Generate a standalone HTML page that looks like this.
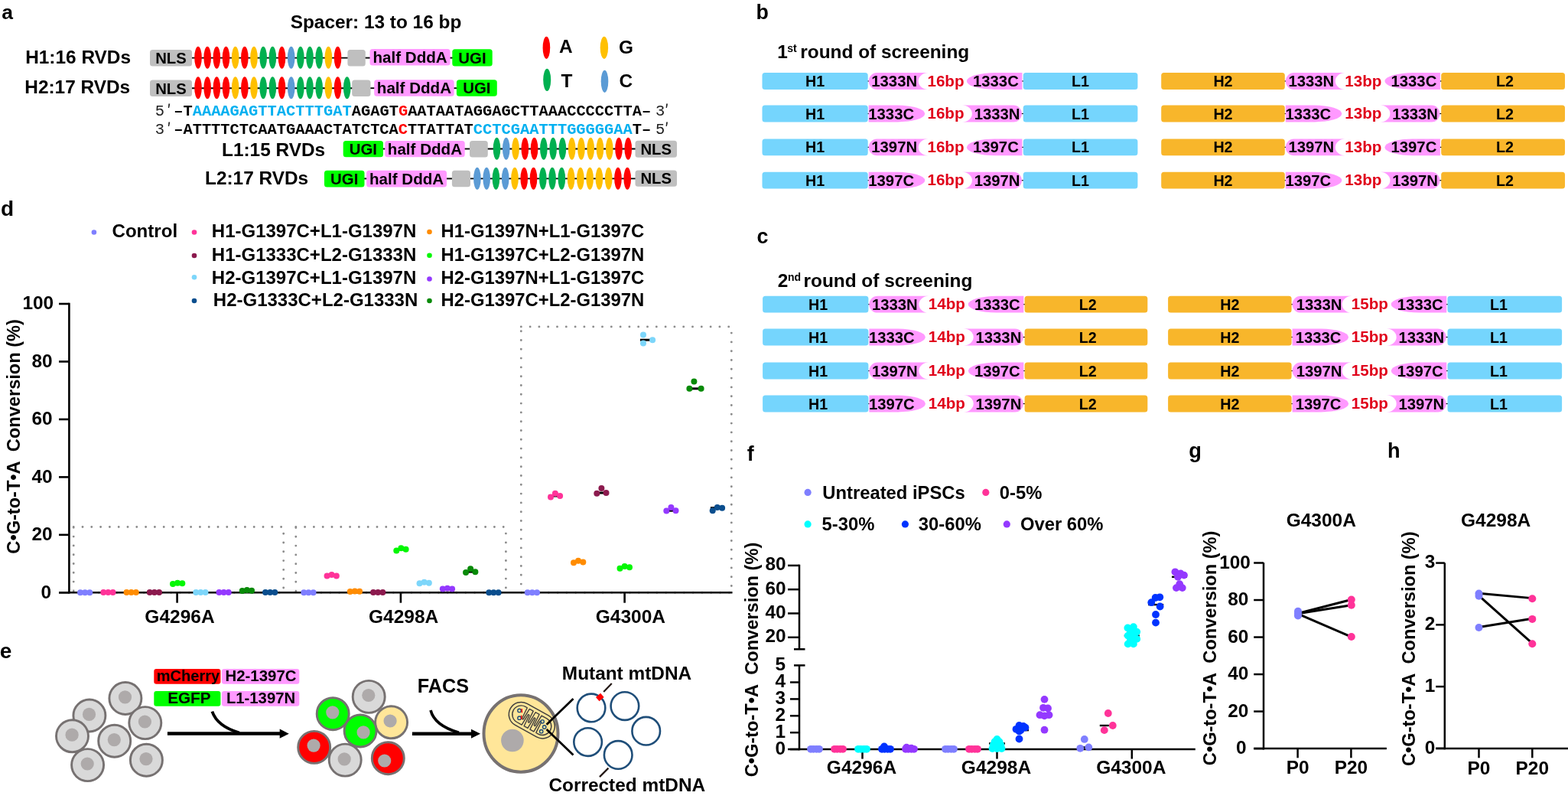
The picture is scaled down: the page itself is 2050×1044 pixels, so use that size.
<!DOCTYPE html>
<html><head><meta charset="utf-8"><title>Figure</title>
<style>html,body{margin:0;padding:0;background:#fff;} svg{display:block;}</style></head>
<body><svg width="2050" height="1044" viewBox="0 0 2050 1044">
<rect width="2050" height="1044" fill="#fff"/>
<text x="2.20" y="24.70" font-size="26.5" font-weight="bold" fill="#000" text-anchor="start" font-family="'Liberation Sans', Arial, sans-serif" >a</text>
<text x="491.50" y="36.80" font-size="24.4" font-weight="bold" fill="#000" text-anchor="middle" font-family="'Liberation Sans', Arial, sans-serif" >Spacer: 13 to 16 bp</text>
<text x="33.20" y="83.40" font-size="24.4" font-weight="bold" fill="#000" text-anchor="start" font-family="'Liberation Sans', Arial, sans-serif" >H1:16 RVDs</text>
<line x1="250.00" y1="75.60" x2="455.00" y2="75.60" stroke="#000" stroke-width="1.9" />
<line x1="477.00" y1="75.60" x2="484.00" y2="75.60" stroke="#000" stroke-width="1.9" />
<line x1="588.00" y1="75.60" x2="592.00" y2="75.60" stroke="#000" stroke-width="1.9" />
<rect x="196.00" y="65.00" width="55.00" height="21.60" rx="3.5" fill="#BFBFBF" />
<text x="223.50" y="83.07" font-size="20.3" font-weight="bold" fill="#000" text-anchor="middle" font-family="'Liberation Sans', Arial, sans-serif" >NLS</text>
<ellipse cx="259.00" cy="75.30" rx="4.8" ry="14.5" fill="#FF0000"/>
<ellipse cx="271.17" cy="75.30" rx="4.8" ry="14.5" fill="#FF0000"/>
<ellipse cx="283.34" cy="75.30" rx="4.8" ry="14.5" fill="#FF0000"/>
<ellipse cx="295.51" cy="75.30" rx="4.8" ry="14.5" fill="#FF0000"/>
<ellipse cx="307.68" cy="75.30" rx="4.8" ry="14.5" fill="#FFC000"/>
<ellipse cx="319.85" cy="75.30" rx="4.8" ry="14.5" fill="#FF0000"/>
<ellipse cx="332.02" cy="75.30" rx="4.8" ry="14.5" fill="#FFC000"/>
<ellipse cx="344.19" cy="75.30" rx="4.8" ry="14.5" fill="#00B050"/>
<ellipse cx="356.36" cy="75.30" rx="4.8" ry="14.5" fill="#00B050"/>
<ellipse cx="368.53" cy="75.30" rx="4.8" ry="14.5" fill="#FF0000"/>
<ellipse cx="380.70" cy="75.30" rx="4.8" ry="14.5" fill="#5B9BD5"/>
<ellipse cx="392.87" cy="75.30" rx="4.8" ry="14.5" fill="#00B050"/>
<ellipse cx="405.04" cy="75.30" rx="4.8" ry="14.5" fill="#00B050"/>
<ellipse cx="417.21" cy="75.30" rx="4.8" ry="14.5" fill="#00B050"/>
<ellipse cx="429.38" cy="75.30" rx="4.8" ry="14.5" fill="#FFC000"/>
<ellipse cx="441.55" cy="75.30" rx="4.8" ry="14.5" fill="#FF0000"/>
<rect x="454.40" y="65.00" width="23.40" height="21.60" rx="3.5" fill="#BFBFBF" />
<rect x="483.50" y="64.00" width="105.10" height="21.60" rx="3.5" fill="#FF99FF" />
<text x="536.05" y="82.17" font-size="20.6" font-weight="bold" fill="#000" text-anchor="middle" font-family="'Liberation Sans', Arial, sans-serif" >half DddA</text>
<rect x="591.30" y="64.20" width="52.40" height="22.30" rx="3.5" fill="#00FF00" />
<text x="617.50" y="82.65" font-size="20.4" font-weight="bold" fill="#000" text-anchor="middle" font-family="'Liberation Sans', Arial, sans-serif" >UGI</text>
<text x="32.30" y="122.00" font-size="24.4" font-weight="bold" fill="#000" text-anchor="start" font-family="'Liberation Sans', Arial, sans-serif" >H2:17 RVDs</text>
<line x1="250.00" y1="115.20" x2="461.00" y2="115.20" stroke="#000" stroke-width="1.9" />
<line x1="484.00" y1="115.20" x2="490.00" y2="115.20" stroke="#000" stroke-width="1.9" />
<line x1="593.00" y1="115.20" x2="597.00" y2="115.20" stroke="#000" stroke-width="1.9" />
<rect x="196.00" y="104.40" width="55.00" height="21.70" rx="3.5" fill="#BFBFBF" />
<text x="223.50" y="122.52" font-size="20.3" font-weight="bold" fill="#000" text-anchor="middle" font-family="'Liberation Sans', Arial, sans-serif" >NLS</text>
<ellipse cx="259.00" cy="114.80" rx="4.8" ry="14.5" fill="#FF0000"/>
<ellipse cx="271.17" cy="114.80" rx="4.8" ry="14.5" fill="#FF0000"/>
<ellipse cx="283.34" cy="114.80" rx="4.8" ry="14.5" fill="#FF0000"/>
<ellipse cx="295.51" cy="114.80" rx="4.8" ry="14.5" fill="#FF0000"/>
<ellipse cx="307.68" cy="114.80" rx="4.8" ry="14.5" fill="#FFC000"/>
<ellipse cx="319.85" cy="114.80" rx="4.8" ry="14.5" fill="#FF0000"/>
<ellipse cx="332.02" cy="114.80" rx="4.8" ry="14.5" fill="#FFC000"/>
<ellipse cx="344.19" cy="114.80" rx="4.8" ry="14.5" fill="#00B050"/>
<ellipse cx="356.36" cy="114.80" rx="4.8" ry="14.5" fill="#00B050"/>
<ellipse cx="368.53" cy="114.80" rx="4.8" ry="14.5" fill="#FF0000"/>
<ellipse cx="380.70" cy="114.80" rx="4.8" ry="14.5" fill="#5B9BD5"/>
<ellipse cx="392.87" cy="114.80" rx="4.8" ry="14.5" fill="#00B050"/>
<ellipse cx="405.04" cy="114.80" rx="4.8" ry="14.5" fill="#00B050"/>
<ellipse cx="417.21" cy="114.80" rx="4.8" ry="14.5" fill="#00B050"/>
<ellipse cx="429.38" cy="114.80" rx="4.8" ry="14.5" fill="#FFC000"/>
<ellipse cx="441.55" cy="114.80" rx="4.8" ry="14.5" fill="#FF0000"/>
<ellipse cx="453.72" cy="114.80" rx="4.8" ry="14.5" fill="#00B050"/>
<rect x="460.20" y="104.40" width="24.30" height="21.50" rx="3.5" fill="#BFBFBF" />
<rect x="489.20" y="104.20" width="104.50" height="21.50" rx="3.5" fill="#FF99FF" />
<text x="541.45" y="122.32" font-size="20.6" font-weight="bold" fill="#000" text-anchor="middle" font-family="'Liberation Sans', Arial, sans-serif" >half DddA</text>
<rect x="596.90" y="104.20" width="52.90" height="21.50" rx="3.5" fill="#00FF00" />
<text x="623.35" y="122.25" font-size="20.4" font-weight="bold" fill="#000" text-anchor="middle" font-family="'Liberation Sans', Arial, sans-serif" >UGI</text>
<ellipse cx="714.40" cy="62.30" rx="4.8" ry="14.6" fill="#FF0000"/>
<text x="731.00" y="68.90" font-size="24.4" font-weight="bold" fill="#000" text-anchor="start" font-family="'Liberation Sans', Arial, sans-serif" >A</text>
<ellipse cx="789.90" cy="62.30" rx="5.2" ry="14.6" fill="#FFC000"/>
<text x="809.00" y="69.90" font-size="24.4" font-weight="bold" fill="#000" text-anchor="start" font-family="'Liberation Sans', Arial, sans-serif" >G</text>
<ellipse cx="715.20" cy="104.40" rx="5.0" ry="14.6" fill="#00B050"/>
<text x="733.50" y="113.70" font-size="24.4" font-weight="bold" fill="#000" text-anchor="start" font-family="'Liberation Sans', Arial, sans-serif" >T</text>
<ellipse cx="790.50" cy="106.30" rx="4.8" ry="14.6" fill="#5B9BD5"/>
<text x="809.50" y="113.90" font-size="24.4" font-weight="bold" fill="#000" text-anchor="start" font-family="'Liberation Sans', Arial, sans-serif" >C</text>
<text x="202.70" y="151.3" font-size="20.40" font-family="'Liberation Mono', 'Courier New', monospace" fill="#222">5<tspan font-family="Noto Sans CJK JP, sans-serif" font-size="20.4" dx="3">&#8242;</tspan></text>
<text x="227.18" y="151.3" font-size="20.40" font-weight="bold" font-family="'Liberation Mono', 'Courier New', monospace" fill="#000" style="white-space:pre"><tspan fill="#000">&#8211;T</tspan><tspan fill="#00B0F0">AAAAGAGTTACTTTGAT</tspan><tspan fill="#000">AGAGT</tspan><tspan fill="#FF0000">G</tspan><tspan fill="#000">AATAATAGGAGCTTAAACCCCCTTA</tspan><tspan fill="#000">&#8211;</tspan></text>
<text x="857" y="151.3" font-size="20.40" font-family="'Liberation Mono', 'Courier New', monospace" fill="#222">3<tspan font-family="Noto Sans CJK JP, sans-serif" font-size="20.4" dx="-0.5">&#8242;</tspan></text>
<text x="202.70" y="174.7" font-size="20.40" font-family="'Liberation Mono', 'Courier New', monospace" fill="#222">3<tspan font-family="Noto Sans CJK JP, sans-serif" font-size="20.4" dx="3">&#8242;</tspan></text>
<text x="227.18" y="174.7" font-size="20.40" font-weight="bold" font-family="'Liberation Mono', 'Courier New', monospace" fill="#000" style="white-space:pre"><tspan fill="#000">&#8211;ATTTTCTCAATGAAACTATCTCA</tspan><tspan fill="#FF0000">C</tspan><tspan fill="#000">TTATTAT</tspan><tspan fill="#00B0F0">CCTCGAATTTGGGGGAA</tspan><tspan fill="#000">T&#8211;</tspan></text>
<text x="857" y="174.7" font-size="20.40" font-family="'Liberation Mono', 'Courier New', monospace" fill="#222">5<tspan font-family="Noto Sans CJK JP, sans-serif" font-size="20.4" dx="-0.5">&#8242;</tspan></text>
<text x="290.00" y="203.70" font-size="24.4" font-weight="bold" fill="#000" text-anchor="start" font-family="'Liberation Sans', Arial, sans-serif" >L1:15 RVDs</text>
<line x1="500.00" y1="194.50" x2="504.00" y2="194.50" stroke="#000" stroke-width="1.9" />
<line x1="607.00" y1="194.50" x2="615.00" y2="194.50" stroke="#000" stroke-width="1.9" />
<line x1="637.00" y1="194.50" x2="831.00" y2="194.50" stroke="#000" stroke-width="1.9" />
<rect x="448.70" y="183.90" width="52.30" height="21.30" rx="3.5" fill="#00FF00" />
<text x="474.85" y="201.85" font-size="20.4" font-weight="bold" fill="#000" text-anchor="middle" font-family="'Liberation Sans', Arial, sans-serif" >UGI</text>
<rect x="503.20" y="183.90" width="104.50" height="21.30" rx="3.5" fill="#FF99FF" />
<text x="555.45" y="201.92" font-size="20.6" font-weight="bold" fill="#000" text-anchor="middle" font-family="'Liberation Sans', Arial, sans-serif" >half DddA</text>
<rect x="614.00" y="184.00" width="23.80" height="21.40" rx="3.5" fill="#BFBFBF" />
<ellipse cx="649.50" cy="194.30" rx="4.8" ry="14.5" fill="#00B050"/>
<ellipse cx="661.77" cy="194.30" rx="4.8" ry="14.5" fill="#5B9BD5"/>
<ellipse cx="674.04" cy="194.30" rx="4.8" ry="14.5" fill="#FFC000"/>
<ellipse cx="686.31" cy="194.30" rx="4.8" ry="14.5" fill="#FF0000"/>
<ellipse cx="698.58" cy="194.30" rx="4.8" ry="14.5" fill="#FF0000"/>
<ellipse cx="710.85" cy="194.30" rx="4.8" ry="14.5" fill="#00B050"/>
<ellipse cx="723.12" cy="194.30" rx="4.8" ry="14.5" fill="#00B050"/>
<ellipse cx="735.39" cy="194.30" rx="4.8" ry="14.5" fill="#00B050"/>
<ellipse cx="747.66" cy="194.30" rx="4.8" ry="14.5" fill="#FFC000"/>
<ellipse cx="759.93" cy="194.30" rx="4.8" ry="14.5" fill="#FFC000"/>
<ellipse cx="772.20" cy="194.30" rx="4.8" ry="14.5" fill="#FFC000"/>
<ellipse cx="784.47" cy="194.30" rx="4.8" ry="14.5" fill="#FFC000"/>
<ellipse cx="796.74" cy="194.30" rx="4.8" ry="14.5" fill="#FFC000"/>
<ellipse cx="809.01" cy="194.30" rx="4.8" ry="14.5" fill="#FF0000"/>
<ellipse cx="821.28" cy="194.30" rx="4.8" ry="14.5" fill="#FF0000"/>
<rect x="830.50" y="183.80" width="54.50" height="21.90" rx="3.5" fill="#BFBFBF" />
<text x="857.75" y="202.02" font-size="20.3" font-weight="bold" fill="#000" text-anchor="middle" font-family="'Liberation Sans', Arial, sans-serif" >NLS</text>
<text x="268.00" y="240.80" font-size="24.4" font-weight="bold" fill="#000" text-anchor="start" font-family="'Liberation Sans', Arial, sans-serif" >L2:17 RVDs</text>
<line x1="476.00" y1="233.40" x2="480.00" y2="233.40" stroke="#000" stroke-width="1.9" />
<line x1="583.00" y1="233.40" x2="591.00" y2="233.40" stroke="#000" stroke-width="1.9" />
<line x1="614.00" y1="233.40" x2="831.00" y2="233.40" stroke="#000" stroke-width="1.9" />
<rect x="424.00" y="222.80" width="52.50" height="21.70" rx="3.5" fill="#00FF00" />
<text x="450.25" y="240.95" font-size="20.4" font-weight="bold" fill="#000" text-anchor="middle" font-family="'Liberation Sans', Arial, sans-serif" >UGI</text>
<rect x="479.10" y="222.80" width="104.90" height="21.70" rx="3.5" fill="#FF99FF" />
<text x="531.55" y="241.02" font-size="20.6" font-weight="bold" fill="#000" text-anchor="middle" font-family="'Liberation Sans', Arial, sans-serif" >half DddA</text>
<rect x="590.90" y="222.80" width="24.10" height="21.50" rx="3.5" fill="#BFBFBF" />
<ellipse cx="623.90" cy="233.20" rx="4.8" ry="14.5" fill="#5B9BD5"/>
<ellipse cx="636.17" cy="233.20" rx="4.8" ry="14.5" fill="#5B9BD5"/>
<ellipse cx="648.44" cy="233.20" rx="4.8" ry="14.5" fill="#00B050"/>
<ellipse cx="660.71" cy="233.20" rx="4.8" ry="14.5" fill="#5B9BD5"/>
<ellipse cx="672.98" cy="233.20" rx="4.8" ry="14.5" fill="#FFC000"/>
<ellipse cx="685.25" cy="233.20" rx="4.8" ry="14.5" fill="#FF0000"/>
<ellipse cx="697.52" cy="233.20" rx="4.8" ry="14.5" fill="#FF0000"/>
<ellipse cx="709.79" cy="233.20" rx="4.8" ry="14.5" fill="#00B050"/>
<ellipse cx="722.06" cy="233.20" rx="4.8" ry="14.5" fill="#00B050"/>
<ellipse cx="734.33" cy="233.20" rx="4.8" ry="14.5" fill="#00B050"/>
<ellipse cx="746.60" cy="233.20" rx="4.8" ry="14.5" fill="#FFC000"/>
<ellipse cx="758.87" cy="233.20" rx="4.8" ry="14.5" fill="#FFC000"/>
<ellipse cx="771.14" cy="233.20" rx="4.8" ry="14.5" fill="#FFC000"/>
<ellipse cx="783.41" cy="233.20" rx="4.8" ry="14.5" fill="#FFC000"/>
<ellipse cx="795.68" cy="233.20" rx="4.8" ry="14.5" fill="#FFC000"/>
<ellipse cx="807.95" cy="233.20" rx="4.8" ry="14.5" fill="#FF0000"/>
<ellipse cx="820.22" cy="233.20" rx="4.8" ry="14.5" fill="#FF0000"/>
<rect x="830.50" y="222.60" width="54.50" height="21.20" rx="3.5" fill="#BFBFBF" />
<text x="857.75" y="240.47" font-size="20.3" font-weight="bold" fill="#000" text-anchor="middle" font-family="'Liberation Sans', Arial, sans-serif" >NLS</text>
<text x="988.60" y="24.60" font-size="26.8" font-weight="bold" fill="#000" text-anchor="start" font-family="'Liberation Sans', Arial, sans-serif" >b</text>
<text x="1016.3" y="75.6" font-size="24.4" font-weight="bold" font-family="'Liberation Sans', Arial, sans-serif">1<tspan x="1029.3" y="67.8" font-size="14">st</tspan><tspan x="1046.3" y="75.6">round of screening</tspan></text>
<line x1="1133.70" y1="106.00" x2="1138.70" y2="106.00" stroke="#000" stroke-width="1.2" />
<line x1="1333.70" y1="106.00" x2="1338.70" y2="106.00" stroke="#000" stroke-width="1.2" />
<rect x="996.50" y="95.10" width="138.20" height="21.80" rx="3.5" fill="#75D5FD" />
<text x="1065.60" y="113.00" font-size="19.7" font-weight="bold" fill="#000" text-anchor="middle" font-family="'Liberation Sans', Arial, sans-serif" >H1</text>
<rect x="1337.70" y="95.10" width="149.70" height="21.80" rx="3.5" fill="#75D5FD" />
<text x="1412.55" y="113.00" font-size="19.7" font-weight="bold" fill="#000" text-anchor="middle" font-family="'Liberation Sans', Arial, sans-serif" >L1</text>
<path d="M1146.60,95.10 L1213.70,95.10 A13,10.90 0 0 0 1213.70,116.90 L1146.60,116.90 A10.90,10.90 0 0 1 1146.60,95.10 Z" fill="#FF99FF"/>
<path d="M1336.40,95.10 L1300.90,95.10 A37,10.90 0 0 0 1300.90,116.90 L1336.40,116.90 Z" fill="#FF99FF"/>
<text x="1139.30" y="113.00" font-size="20.3" font-weight="bold" fill="#000" text-anchor="start" font-family="'Liberation Sans', Arial, sans-serif" >1333N</text>
<text x="1331.80" y="113.00" font-size="20.3" font-weight="bold" fill="#000" text-anchor="end" font-family="'Liberation Sans', Arial, sans-serif" >1333C</text>
<text x="1236.50" y="112.60" font-size="20.6" font-weight="bold" fill="#E0001A" text-anchor="middle" font-family="'Liberation Sans', Arial, sans-serif" >16bp</text>
<line x1="1678.80" y1="106.00" x2="1683.80" y2="106.00" stroke="#000" stroke-width="1.2" />
<line x1="1880.20" y1="106.00" x2="1885.20" y2="106.00" stroke="#000" stroke-width="1.2" />
<rect x="1518.20" y="95.10" width="161.60" height="21.80" rx="3.5" fill="#F8B62B" />
<text x="1599.00" y="113.00" font-size="19.7" font-weight="bold" fill="#000" text-anchor="middle" font-family="'Liberation Sans', Arial, sans-serif" >H2</text>
<rect x="1884.20" y="95.10" width="161.80" height="21.80" rx="3.5" fill="#F8B62B" />
<text x="1967.60" y="113.00" font-size="19.7" font-weight="bold" fill="#000" text-anchor="middle" font-family="'Liberation Sans', Arial, sans-serif" >L2</text>
<path d="M1691.70,95.10 L1758.80,95.10 A13,10.90 0 0 0 1758.80,116.90 L1691.70,116.90 A10.90,10.90 0 0 1 1691.70,95.10 Z" fill="#FF99FF"/>
<path d="M1882.90,95.10 L1847.40,95.10 A37,10.90 0 0 0 1847.40,116.90 L1882.90,116.90 Z" fill="#FF99FF"/>
<text x="1684.40" y="113.00" font-size="20.3" font-weight="bold" fill="#000" text-anchor="start" font-family="'Liberation Sans', Arial, sans-serif" >1333N</text>
<text x="1878.30" y="113.00" font-size="20.3" font-weight="bold" fill="#000" text-anchor="end" font-family="'Liberation Sans', Arial, sans-serif" >1333C</text>
<text x="1782.30" y="112.60" font-size="20.6" font-weight="bold" fill="#E0001A" text-anchor="middle" font-family="'Liberation Sans', Arial, sans-serif" >13bp</text>
<line x1="1133.70" y1="148.50" x2="1138.70" y2="148.50" stroke="#000" stroke-width="1.2" />
<line x1="1333.70" y1="148.50" x2="1338.70" y2="148.50" stroke="#000" stroke-width="1.2" />
<rect x="996.50" y="137.60" width="138.20" height="21.80" rx="3.5" fill="#75D5FD" />
<text x="1065.60" y="155.50" font-size="19.7" font-weight="bold" fill="#000" text-anchor="middle" font-family="'Liberation Sans', Arial, sans-serif" >H1</text>
<rect x="1337.70" y="137.60" width="149.70" height="21.80" rx="3.5" fill="#75D5FD" />
<text x="1412.55" y="155.50" font-size="19.7" font-weight="bold" fill="#000" text-anchor="middle" font-family="'Liberation Sans', Arial, sans-serif" >L1</text>
<path d="M1135.70,137.60 L1173.20,137.60 A36,10.90 0 0 1 1173.20,159.40 L1135.70,159.40 Z" fill="#FF99FF"/>
<path d="M1257.90,137.60 L1325.00,137.60 A10.90,10.90 0 0 1 1325.00,159.40 L1257.90,159.40 A13,10.90 0 0 0 1257.90,137.60 Z" fill="#FF99FF"/>
<text x="1135.30" y="155.50" font-size="20.3" font-weight="bold" fill="#000" text-anchor="start" font-family="'Liberation Sans', Arial, sans-serif" >1333C</text>
<text x="1333.40" y="155.50" font-size="20.3" font-weight="bold" fill="#000" text-anchor="end" font-family="'Liberation Sans', Arial, sans-serif" >1333N</text>
<text x="1236.50" y="155.10" font-size="20.6" font-weight="bold" fill="#E0001A" text-anchor="middle" font-family="'Liberation Sans', Arial, sans-serif" >16bp</text>
<line x1="1678.80" y1="148.50" x2="1683.80" y2="148.50" stroke="#000" stroke-width="1.2" />
<line x1="1880.20" y1="148.50" x2="1885.20" y2="148.50" stroke="#000" stroke-width="1.2" />
<rect x="1518.20" y="137.60" width="161.60" height="21.80" rx="3.5" fill="#F8B62B" />
<text x="1599.00" y="155.50" font-size="19.7" font-weight="bold" fill="#000" text-anchor="middle" font-family="'Liberation Sans', Arial, sans-serif" >H2</text>
<rect x="1884.20" y="137.60" width="161.80" height="21.80" rx="3.5" fill="#F8B62B" />
<text x="1967.60" y="155.50" font-size="19.7" font-weight="bold" fill="#000" text-anchor="middle" font-family="'Liberation Sans', Arial, sans-serif" >L2</text>
<path d="M1680.80,137.60 L1718.30,137.60 A36,10.90 0 0 1 1718.30,159.40 L1680.80,159.40 Z" fill="#FF99FF"/>
<path d="M1804.40,137.60 L1871.50,137.60 A10.90,10.90 0 0 1 1871.50,159.40 L1804.40,159.40 A13,10.90 0 0 0 1804.40,137.60 Z" fill="#FF99FF"/>
<text x="1680.40" y="155.50" font-size="20.3" font-weight="bold" fill="#000" text-anchor="start" font-family="'Liberation Sans', Arial, sans-serif" >1333C</text>
<text x="1879.90" y="155.50" font-size="20.3" font-weight="bold" fill="#000" text-anchor="end" font-family="'Liberation Sans', Arial, sans-serif" >1333N</text>
<text x="1782.30" y="155.10" font-size="20.6" font-weight="bold" fill="#E0001A" text-anchor="middle" font-family="'Liberation Sans', Arial, sans-serif" >13bp</text>
<line x1="1133.70" y1="192.40" x2="1138.70" y2="192.40" stroke="#000" stroke-width="1.2" />
<line x1="1333.70" y1="192.40" x2="1338.70" y2="192.40" stroke="#000" stroke-width="1.2" />
<rect x="996.50" y="181.50" width="138.20" height="21.80" rx="3.5" fill="#75D5FD" />
<text x="1065.60" y="199.40" font-size="19.7" font-weight="bold" fill="#000" text-anchor="middle" font-family="'Liberation Sans', Arial, sans-serif" >H1</text>
<rect x="1337.70" y="181.50" width="149.70" height="21.80" rx="3.5" fill="#75D5FD" />
<text x="1412.55" y="199.40" font-size="19.7" font-weight="bold" fill="#000" text-anchor="middle" font-family="'Liberation Sans', Arial, sans-serif" >L1</text>
<path d="M1146.60,181.50 L1213.70,181.50 A13,10.90 0 0 0 1213.70,203.30 L1146.60,203.30 A10.90,10.90 0 0 1 1146.60,181.50 Z" fill="#FF99FF"/>
<path d="M1336.40,181.50 L1300.90,181.50 A37,10.90 0 0 0 1300.90,203.30 L1336.40,203.30 Z" fill="#FF99FF"/>
<text x="1139.30" y="199.40" font-size="20.3" font-weight="bold" fill="#000" text-anchor="start" font-family="'Liberation Sans', Arial, sans-serif" >1397N</text>
<text x="1331.80" y="199.40" font-size="20.3" font-weight="bold" fill="#000" text-anchor="end" font-family="'Liberation Sans', Arial, sans-serif" >1397C</text>
<text x="1236.50" y="199.00" font-size="20.6" font-weight="bold" fill="#E0001A" text-anchor="middle" font-family="'Liberation Sans', Arial, sans-serif" >16bp</text>
<line x1="1678.80" y1="192.40" x2="1683.80" y2="192.40" stroke="#000" stroke-width="1.2" />
<line x1="1880.20" y1="192.40" x2="1885.20" y2="192.40" stroke="#000" stroke-width="1.2" />
<rect x="1518.20" y="181.50" width="161.60" height="21.80" rx="3.5" fill="#F8B62B" />
<text x="1599.00" y="199.40" font-size="19.7" font-weight="bold" fill="#000" text-anchor="middle" font-family="'Liberation Sans', Arial, sans-serif" >H2</text>
<rect x="1884.20" y="181.50" width="161.80" height="21.80" rx="3.5" fill="#F8B62B" />
<text x="1967.60" y="199.40" font-size="19.7" font-weight="bold" fill="#000" text-anchor="middle" font-family="'Liberation Sans', Arial, sans-serif" >L2</text>
<path d="M1691.70,181.50 L1758.80,181.50 A13,10.90 0 0 0 1758.80,203.30 L1691.70,203.30 A10.90,10.90 0 0 1 1691.70,181.50 Z" fill="#FF99FF"/>
<path d="M1882.90,181.50 L1847.40,181.50 A37,10.90 0 0 0 1847.40,203.30 L1882.90,203.30 Z" fill="#FF99FF"/>
<text x="1684.40" y="199.40" font-size="20.3" font-weight="bold" fill="#000" text-anchor="start" font-family="'Liberation Sans', Arial, sans-serif" >1397N</text>
<text x="1878.30" y="199.40" font-size="20.3" font-weight="bold" fill="#000" text-anchor="end" font-family="'Liberation Sans', Arial, sans-serif" >1397C</text>
<text x="1782.30" y="199.00" font-size="20.6" font-weight="bold" fill="#E0001A" text-anchor="middle" font-family="'Liberation Sans', Arial, sans-serif" >13bp</text>
<line x1="1133.70" y1="235.70" x2="1138.70" y2="235.70" stroke="#000" stroke-width="1.2" />
<line x1="1333.70" y1="235.70" x2="1338.70" y2="235.70" stroke="#000" stroke-width="1.2" />
<rect x="996.50" y="224.80" width="138.20" height="21.80" rx="3.5" fill="#75D5FD" />
<text x="1065.60" y="242.70" font-size="19.7" font-weight="bold" fill="#000" text-anchor="middle" font-family="'Liberation Sans', Arial, sans-serif" >H1</text>
<rect x="1337.70" y="224.80" width="149.70" height="21.80" rx="3.5" fill="#75D5FD" />
<text x="1412.55" y="242.70" font-size="19.7" font-weight="bold" fill="#000" text-anchor="middle" font-family="'Liberation Sans', Arial, sans-serif" >L1</text>
<path d="M1135.70,224.80 L1173.20,224.80 A36,10.90 0 0 1 1173.20,246.60 L1135.70,246.60 Z" fill="#FF99FF"/>
<path d="M1257.90,224.80 L1325.00,224.80 A10.90,10.90 0 0 1 1325.00,246.60 L1257.90,246.60 A13,10.90 0 0 0 1257.90,224.80 Z" fill="#FF99FF"/>
<text x="1135.30" y="242.70" font-size="20.3" font-weight="bold" fill="#000" text-anchor="start" font-family="'Liberation Sans', Arial, sans-serif" >1397C</text>
<text x="1333.40" y="242.70" font-size="20.3" font-weight="bold" fill="#000" text-anchor="end" font-family="'Liberation Sans', Arial, sans-serif" >1397N</text>
<text x="1236.50" y="242.30" font-size="20.6" font-weight="bold" fill="#E0001A" text-anchor="middle" font-family="'Liberation Sans', Arial, sans-serif" >16bp</text>
<line x1="1678.80" y1="235.70" x2="1683.80" y2="235.70" stroke="#000" stroke-width="1.2" />
<line x1="1880.20" y1="235.70" x2="1885.20" y2="235.70" stroke="#000" stroke-width="1.2" />
<rect x="1518.20" y="224.80" width="161.60" height="21.80" rx="3.5" fill="#F8B62B" />
<text x="1599.00" y="242.70" font-size="19.7" font-weight="bold" fill="#000" text-anchor="middle" font-family="'Liberation Sans', Arial, sans-serif" >H2</text>
<rect x="1884.20" y="224.80" width="161.80" height="21.80" rx="3.5" fill="#F8B62B" />
<text x="1967.60" y="242.70" font-size="19.7" font-weight="bold" fill="#000" text-anchor="middle" font-family="'Liberation Sans', Arial, sans-serif" >L2</text>
<path d="M1680.80,224.80 L1718.30,224.80 A36,10.90 0 0 1 1718.30,246.60 L1680.80,246.60 Z" fill="#FF99FF"/>
<path d="M1804.40,224.80 L1871.50,224.80 A10.90,10.90 0 0 1 1871.50,246.60 L1804.40,246.60 A13,10.90 0 0 0 1804.40,224.80 Z" fill="#FF99FF"/>
<text x="1680.40" y="242.70" font-size="20.3" font-weight="bold" fill="#000" text-anchor="start" font-family="'Liberation Sans', Arial, sans-serif" >1397C</text>
<text x="1879.90" y="242.70" font-size="20.3" font-weight="bold" fill="#000" text-anchor="end" font-family="'Liberation Sans', Arial, sans-serif" >1397N</text>
<text x="1782.30" y="242.30" font-size="20.6" font-weight="bold" fill="#E0001A" text-anchor="middle" font-family="'Liberation Sans', Arial, sans-serif" >13bp</text>
<text x="989.40" y="317.80" font-size="26.8" font-weight="bold" fill="#000" text-anchor="start" font-family="'Liberation Sans', Arial, sans-serif" >c</text>
<text x="1016.7" y="374.8" font-size="24.4" font-weight="bold" font-family="'Liberation Sans', Arial, sans-serif">2<tspan x="1030.0" y="367.0" font-size="14">nd</tspan><tspan x="1050.5" y="374.8">round of screening</tspan></text>
<line x1="1134.40" y1="397.70" x2="1139.40" y2="397.70" stroke="#000" stroke-width="1.2" />
<line x1="1335.60" y1="397.70" x2="1340.60" y2="397.70" stroke="#000" stroke-width="1.2" />
<rect x="997.10" y="386.80" width="138.30" height="21.80" rx="3.5" fill="#75D5FD" />
<text x="1069.55" y="404.70" font-size="19.7" font-weight="bold" fill="#000" text-anchor="middle" font-family="'Liberation Sans', Arial, sans-serif" >H1</text>
<rect x="1339.60" y="386.80" width="160.70" height="21.80" rx="3.5" fill="#F8B62B" />
<text x="1422.15" y="404.70" font-size="19.7" font-weight="bold" fill="#000" text-anchor="middle" font-family="'Liberation Sans', Arial, sans-serif" >L2</text>
<path d="M1147.30,386.80 L1214.40,386.80 A13,10.90 0 0 0 1214.40,408.60 L1147.30,408.60 A10.90,10.90 0 0 1 1147.30,386.80 Z" fill="#FF99FF"/>
<path d="M1338.30,386.80 L1302.80,386.80 A37,10.90 0 0 0 1302.80,408.60 L1338.30,408.60 Z" fill="#FF99FF"/>
<text x="1140.00" y="404.70" font-size="20.3" font-weight="bold" fill="#000" text-anchor="start" font-family="'Liberation Sans', Arial, sans-serif" >1333N</text>
<text x="1333.70" y="404.70" font-size="20.3" font-weight="bold" fill="#000" text-anchor="end" font-family="'Liberation Sans', Arial, sans-serif" >1333C</text>
<text x="1237.80" y="404.30" font-size="20.6" font-weight="bold" fill="#E0001A" text-anchor="middle" font-family="'Liberation Sans', Arial, sans-serif" >14bp</text>
<line x1="1687.60" y1="397.70" x2="1692.60" y2="397.70" stroke="#000" stroke-width="1.2" />
<line x1="1888.50" y1="397.70" x2="1893.50" y2="397.70" stroke="#000" stroke-width="1.2" />
<rect x="1527.10" y="386.80" width="161.50" height="21.80" rx="3.5" fill="#F8B62B" />
<text x="1607.85" y="404.70" font-size="19.7" font-weight="bold" fill="#000" text-anchor="middle" font-family="'Liberation Sans', Arial, sans-serif" >H2</text>
<rect x="1892.50" y="386.80" width="149.60" height="21.80" rx="3.5" fill="#75D5FD" />
<text x="1959.50" y="404.70" font-size="19.7" font-weight="bold" fill="#000" text-anchor="middle" font-family="'Liberation Sans', Arial, sans-serif" >L1</text>
<path d="M1700.50,386.80 L1767.60,386.80 A13,10.90 0 0 0 1767.60,408.60 L1700.50,408.60 A10.90,10.90 0 0 1 1700.50,386.80 Z" fill="#FF99FF"/>
<path d="M1891.20,386.80 L1855.70,386.80 A37,10.90 0 0 0 1855.70,408.60 L1891.20,408.60 Z" fill="#FF99FF"/>
<text x="1694.70" y="404.70" font-size="20.3" font-weight="bold" fill="#000" text-anchor="start" font-family="'Liberation Sans', Arial, sans-serif" >1333N</text>
<text x="1886.60" y="404.70" font-size="20.3" font-weight="bold" fill="#000" text-anchor="end" font-family="'Liberation Sans', Arial, sans-serif" >1333C</text>
<text x="1790.85" y="404.30" font-size="20.6" font-weight="bold" fill="#E0001A" text-anchor="middle" font-family="'Liberation Sans', Arial, sans-serif" >15bp</text>
<line x1="1134.40" y1="440.50" x2="1139.40" y2="440.50" stroke="#000" stroke-width="1.2" />
<line x1="1335.60" y1="440.50" x2="1340.60" y2="440.50" stroke="#000" stroke-width="1.2" />
<rect x="997.10" y="429.60" width="138.30" height="21.80" rx="3.5" fill="#75D5FD" />
<text x="1069.55" y="447.50" font-size="19.7" font-weight="bold" fill="#000" text-anchor="middle" font-family="'Liberation Sans', Arial, sans-serif" >H1</text>
<rect x="1339.60" y="429.60" width="160.70" height="21.80" rx="3.5" fill="#F8B62B" />
<text x="1422.15" y="447.50" font-size="19.7" font-weight="bold" fill="#000" text-anchor="middle" font-family="'Liberation Sans', Arial, sans-serif" >L2</text>
<path d="M1136.40,429.60 L1173.90,429.60 A36,10.90 0 0 1 1173.90,451.40 L1136.40,451.40 Z" fill="#FF99FF"/>
<path d="M1259.80,429.60 L1326.90,429.60 A10.90,10.90 0 0 1 1326.90,451.40 L1259.80,451.40 A13,10.90 0 0 0 1259.80,429.60 Z" fill="#FF99FF"/>
<text x="1136.00" y="447.50" font-size="20.3" font-weight="bold" fill="#000" text-anchor="start" font-family="'Liberation Sans', Arial, sans-serif" >1333C</text>
<text x="1335.30" y="447.50" font-size="20.3" font-weight="bold" fill="#000" text-anchor="end" font-family="'Liberation Sans', Arial, sans-serif" >1333N</text>
<text x="1237.80" y="447.10" font-size="20.6" font-weight="bold" fill="#E0001A" text-anchor="middle" font-family="'Liberation Sans', Arial, sans-serif" >14bp</text>
<line x1="1687.60" y1="440.50" x2="1692.60" y2="440.50" stroke="#000" stroke-width="1.2" />
<line x1="1888.50" y1="440.50" x2="1893.50" y2="440.50" stroke="#000" stroke-width="1.2" />
<rect x="1527.10" y="429.60" width="161.50" height="21.80" rx="3.5" fill="#F8B62B" />
<text x="1607.85" y="447.50" font-size="19.7" font-weight="bold" fill="#000" text-anchor="middle" font-family="'Liberation Sans', Arial, sans-serif" >H2</text>
<rect x="1892.50" y="429.60" width="149.60" height="21.80" rx="3.5" fill="#75D5FD" />
<text x="1959.50" y="447.50" font-size="19.7" font-weight="bold" fill="#000" text-anchor="middle" font-family="'Liberation Sans', Arial, sans-serif" >L1</text>
<path d="M1689.60,429.60 L1727.10,429.60 A36,10.90 0 0 1 1727.10,451.40 L1689.60,451.40 Z" fill="#FF99FF"/>
<path d="M1812.70,429.60 L1879.80,429.60 A10.90,10.90 0 0 1 1879.80,451.40 L1812.70,451.40 A13,10.90 0 0 0 1812.70,429.60 Z" fill="#FF99FF"/>
<text x="1693.70" y="447.50" font-size="20.3" font-weight="bold" fill="#000" text-anchor="start" font-family="'Liberation Sans', Arial, sans-serif" >1333C</text>
<text x="1888.20" y="447.50" font-size="20.3" font-weight="bold" fill="#000" text-anchor="end" font-family="'Liberation Sans', Arial, sans-serif" >1333N</text>
<text x="1790.85" y="447.10" font-size="20.6" font-weight="bold" fill="#E0001A" text-anchor="middle" font-family="'Liberation Sans', Arial, sans-serif" >15bp</text>
<line x1="1134.40" y1="484.50" x2="1139.40" y2="484.50" stroke="#000" stroke-width="1.2" />
<line x1="1335.60" y1="484.50" x2="1340.60" y2="484.50" stroke="#000" stroke-width="1.2" />
<rect x="997.10" y="473.60" width="138.30" height="21.80" rx="3.5" fill="#75D5FD" />
<text x="1069.55" y="491.50" font-size="19.7" font-weight="bold" fill="#000" text-anchor="middle" font-family="'Liberation Sans', Arial, sans-serif" >H1</text>
<rect x="1339.60" y="473.60" width="160.70" height="21.80" rx="3.5" fill="#F8B62B" />
<text x="1422.15" y="491.50" font-size="19.7" font-weight="bold" fill="#000" text-anchor="middle" font-family="'Liberation Sans', Arial, sans-serif" >L2</text>
<path d="M1147.30,473.60 L1214.40,473.60 A13,10.90 0 0 0 1214.40,495.40 L1147.30,495.40 A10.90,10.90 0 0 1 1147.30,473.60 Z" fill="#FF99FF"/>
<path d="M1338.30,473.60 L1302.80,473.60 A37,10.90 0 0 0 1302.80,495.40 L1338.30,495.40 Z" fill="#FF99FF"/>
<text x="1140.00" y="491.50" font-size="20.3" font-weight="bold" fill="#000" text-anchor="start" font-family="'Liberation Sans', Arial, sans-serif" >1397N</text>
<text x="1333.70" y="491.50" font-size="20.3" font-weight="bold" fill="#000" text-anchor="end" font-family="'Liberation Sans', Arial, sans-serif" >1397C</text>
<text x="1237.80" y="491.10" font-size="20.6" font-weight="bold" fill="#E0001A" text-anchor="middle" font-family="'Liberation Sans', Arial, sans-serif" >14bp</text>
<line x1="1687.60" y1="484.50" x2="1692.60" y2="484.50" stroke="#000" stroke-width="1.2" />
<line x1="1888.50" y1="484.50" x2="1893.50" y2="484.50" stroke="#000" stroke-width="1.2" />
<rect x="1527.10" y="473.60" width="161.50" height="21.80" rx="3.5" fill="#F8B62B" />
<text x="1607.85" y="491.50" font-size="19.7" font-weight="bold" fill="#000" text-anchor="middle" font-family="'Liberation Sans', Arial, sans-serif" >H2</text>
<rect x="1892.50" y="473.60" width="149.60" height="21.80" rx="3.5" fill="#75D5FD" />
<text x="1959.50" y="491.50" font-size="19.7" font-weight="bold" fill="#000" text-anchor="middle" font-family="'Liberation Sans', Arial, sans-serif" >L1</text>
<path d="M1700.50,473.60 L1767.60,473.60 A13,10.90 0 0 0 1767.60,495.40 L1700.50,495.40 A10.90,10.90 0 0 1 1700.50,473.60 Z" fill="#FF99FF"/>
<path d="M1891.20,473.60 L1855.70,473.60 A37,10.90 0 0 0 1855.70,495.40 L1891.20,495.40 Z" fill="#FF99FF"/>
<text x="1694.70" y="491.50" font-size="20.3" font-weight="bold" fill="#000" text-anchor="start" font-family="'Liberation Sans', Arial, sans-serif" >1397N</text>
<text x="1886.60" y="491.50" font-size="20.3" font-weight="bold" fill="#000" text-anchor="end" font-family="'Liberation Sans', Arial, sans-serif" >1397C</text>
<text x="1790.85" y="491.10" font-size="20.6" font-weight="bold" fill="#E0001A" text-anchor="middle" font-family="'Liberation Sans', Arial, sans-serif" >15bp</text>
<line x1="1134.40" y1="527.50" x2="1139.40" y2="527.50" stroke="#000" stroke-width="1.2" />
<line x1="1335.60" y1="527.50" x2="1340.60" y2="527.50" stroke="#000" stroke-width="1.2" />
<rect x="997.10" y="516.60" width="138.30" height="21.80" rx="3.5" fill="#75D5FD" />
<text x="1069.55" y="534.50" font-size="19.7" font-weight="bold" fill="#000" text-anchor="middle" font-family="'Liberation Sans', Arial, sans-serif" >H1</text>
<rect x="1339.60" y="516.60" width="160.70" height="21.80" rx="3.5" fill="#F8B62B" />
<text x="1422.15" y="534.50" font-size="19.7" font-weight="bold" fill="#000" text-anchor="middle" font-family="'Liberation Sans', Arial, sans-serif" >L2</text>
<path d="M1136.40,516.60 L1173.90,516.60 A36,10.90 0 0 1 1173.90,538.40 L1136.40,538.40 Z" fill="#FF99FF"/>
<path d="M1259.80,516.60 L1326.90,516.60 A10.90,10.90 0 0 1 1326.90,538.40 L1259.80,538.40 A13,10.90 0 0 0 1259.80,516.60 Z" fill="#FF99FF"/>
<text x="1136.00" y="534.50" font-size="20.3" font-weight="bold" fill="#000" text-anchor="start" font-family="'Liberation Sans', Arial, sans-serif" >1397C</text>
<text x="1335.30" y="534.50" font-size="20.3" font-weight="bold" fill="#000" text-anchor="end" font-family="'Liberation Sans', Arial, sans-serif" >1397N</text>
<text x="1237.80" y="534.10" font-size="20.6" font-weight="bold" fill="#E0001A" text-anchor="middle" font-family="'Liberation Sans', Arial, sans-serif" >14bp</text>
<line x1="1687.60" y1="527.50" x2="1692.60" y2="527.50" stroke="#000" stroke-width="1.2" />
<line x1="1888.50" y1="527.50" x2="1893.50" y2="527.50" stroke="#000" stroke-width="1.2" />
<rect x="1527.10" y="516.60" width="161.50" height="21.80" rx="3.5" fill="#F8B62B" />
<text x="1607.85" y="534.50" font-size="19.7" font-weight="bold" fill="#000" text-anchor="middle" font-family="'Liberation Sans', Arial, sans-serif" >H2</text>
<rect x="1892.50" y="516.60" width="149.60" height="21.80" rx="3.5" fill="#75D5FD" />
<text x="1959.50" y="534.50" font-size="19.7" font-weight="bold" fill="#000" text-anchor="middle" font-family="'Liberation Sans', Arial, sans-serif" >L1</text>
<path d="M1689.60,516.60 L1727.10,516.60 A36,10.90 0 0 1 1727.10,538.40 L1689.60,538.40 Z" fill="#FF99FF"/>
<path d="M1812.70,516.60 L1879.80,516.60 A10.90,10.90 0 0 1 1879.80,538.40 L1812.70,538.40 A13,10.90 0 0 0 1812.70,516.60 Z" fill="#FF99FF"/>
<text x="1693.70" y="534.50" font-size="20.3" font-weight="bold" fill="#000" text-anchor="start" font-family="'Liberation Sans', Arial, sans-serif" >1397C</text>
<text x="1888.20" y="534.50" font-size="20.3" font-weight="bold" fill="#000" text-anchor="end" font-family="'Liberation Sans', Arial, sans-serif" >1397N</text>
<text x="1790.85" y="534.10" font-size="20.6" font-weight="bold" fill="#E0001A" text-anchor="middle" font-family="'Liberation Sans', Arial, sans-serif" >15bp</text>
<text x="1.00" y="281.60" font-size="28" font-weight="bold" fill="#000" text-anchor="start" font-family="'Liberation Sans', Arial, sans-serif" >d</text>
<circle cx="122.90" cy="303.50" r="3.3" fill="#7F7FFF"/>
<text x="146.50" y="310.30" font-size="24.1" font-weight="bold" fill="#000" text-anchor="start" font-family="'Liberation Sans', Arial, sans-serif" >Control</text>
<circle cx="254.00" cy="303.50" r="3.3" fill="#FF3399"/>
<text x="276.8" y="310.3" font-size="24.0" font-weight="bold" font-family="'Liberation Sans', Arial, sans-serif" style="white-space:pre">H1-G1397C+L1-G1397N</text>
<circle cx="254.00" cy="334.00" r="3.3" fill="#8C1A4E"/>
<text x="276.8" y="341.0" font-size="24.0" font-weight="bold" font-family="'Liberation Sans', Arial, sans-serif" style="white-space:pre">H1-G1333C+L2-G1333N</text>
<circle cx="254.00" cy="362.30" r="3.3" fill="#7DD6FA"/>
<text x="276.8" y="371.0" font-size="24.0" font-weight="bold" font-family="'Liberation Sans', Arial, sans-serif" style="white-space:pre">H2-G1397C+L1-G1397N</text>
<circle cx="254.00" cy="393.00" r="3.3" fill="#0A4E8E"/>
<text x="278.8" y="400.3" font-size="24.0" font-weight="bold" font-family="'Liberation Sans', Arial, sans-serif" style="white-space:pre">H2-G1333C+L2-G1333N</text>
<circle cx="561.50" cy="303.00" r="3.3" fill="#FF8C00"/>
<text x="576.60" y="310.30" font-size="23.85" font-weight="bold" fill="#000" text-anchor="start" font-family="'Liberation Sans', Arial, sans-serif" >H1-G1397N+L1-G1397C</text>
<circle cx="561.50" cy="333.80" r="3.3" fill="#03F703"/>
<text x="576.60" y="341.00" font-size="23.85" font-weight="bold" fill="#000" text-anchor="start" font-family="'Liberation Sans', Arial, sans-serif" >H1-G1397C+L2-G1397N</text>
<circle cx="561.50" cy="364.50" r="3.3" fill="#9439FF"/>
<text x="576.60" y="371.00" font-size="23.85" font-weight="bold" fill="#000" text-anchor="start" font-family="'Liberation Sans', Arial, sans-serif" >H2-G1397N+L1-G1397C</text>
<circle cx="561.50" cy="393.00" r="3.3" fill="#088A08"/>
<text x="576.60" y="400.30" font-size="23.85" font-weight="bold" fill="#000" text-anchor="start" font-family="'Liberation Sans', Arial, sans-serif" >H2-G1397C+L2-G1397N</text>
<rect x="96.2" y="688.5" width="274.5" height="85.8" fill="none" stroke="#8C8C8C" stroke-width="2.9" stroke-linecap="round" stroke-dasharray="0 11.8"/>
<rect x="386.8" y="688.5" width="274.6" height="85.8" fill="none" stroke="#8C8C8C" stroke-width="2.9" stroke-linecap="round" stroke-dasharray="0 11.8"/>
<rect x="681.3" y="426.9" width="275.0" height="347.4" fill="none" stroke="#8C8C8C" stroke-width="2.9" stroke-linecap="round" stroke-dasharray="0 11.8"/>
<line x1="90.40" y1="395.80" x2="90.40" y2="775.50" stroke="#000" stroke-width="2.6" />
<line x1="77.00" y1="774.30" x2="957.50" y2="774.30" stroke="#000" stroke-width="2.6" />
<line x1="77.00" y1="774.30" x2="90.40" y2="774.30" stroke="#000" stroke-width="2.6" />
<text x="67.00" y="781.60" font-size="24.4" font-weight="bold" fill="#000" text-anchor="end" font-family="'Liberation Sans', Arial, sans-serif" >0</text>
<line x1="77.00" y1="698.84" x2="90.40" y2="698.84" stroke="#000" stroke-width="2.6" />
<text x="68.60" y="706.14" font-size="24.4" font-weight="bold" fill="#000" text-anchor="end" font-family="'Liberation Sans', Arial, sans-serif" >20</text>
<line x1="77.00" y1="623.38" x2="90.40" y2="623.38" stroke="#000" stroke-width="2.6" />
<text x="68.60" y="630.68" font-size="24.4" font-weight="bold" fill="#000" text-anchor="end" font-family="'Liberation Sans', Arial, sans-serif" >40</text>
<line x1="77.00" y1="547.92" x2="90.40" y2="547.92" stroke="#000" stroke-width="2.6" />
<text x="68.60" y="555.22" font-size="24.4" font-weight="bold" fill="#000" text-anchor="end" font-family="'Liberation Sans', Arial, sans-serif" >60</text>
<line x1="77.00" y1="472.46" x2="90.40" y2="472.46" stroke="#000" stroke-width="2.6" />
<text x="68.60" y="479.76" font-size="24.4" font-weight="bold" fill="#000" text-anchor="end" font-family="'Liberation Sans', Arial, sans-serif" >80</text>
<line x1="77.00" y1="397.00" x2="90.40" y2="397.00" stroke="#000" stroke-width="2.6" />
<text x="70.20" y="404.30" font-size="24.4" font-weight="bold" fill="#000" text-anchor="end" font-family="'Liberation Sans', Arial, sans-serif" >100</text>
<line x1="231.60" y1="774.30" x2="231.60" y2="787.70" stroke="#000" stroke-width="2.6" />
<text x="235.00" y="813.60" font-size="24.5" font-weight="bold" fill="#000" text-anchor="middle" font-family="'Liberation Sans', Arial, sans-serif" >G4296A</text>
<line x1="523.90" y1="774.30" x2="523.90" y2="787.70" stroke="#000" stroke-width="2.6" />
<text x="527.70" y="813.60" font-size="24.5" font-weight="bold" fill="#000" text-anchor="middle" font-family="'Liberation Sans', Arial, sans-serif" >G4298A</text>
<line x1="816.60" y1="774.30" x2="816.60" y2="787.70" stroke="#000" stroke-width="2.6" />
<text x="824.40" y="813.60" font-size="24.5" font-weight="bold" fill="#000" text-anchor="middle" font-family="'Liberation Sans', Arial, sans-serif" >G4300A</text>
<text transform="translate(26.30,570.40) rotate(-90)" font-size="24.6" font-weight="bold" font-family="'Liberation Sans', Arial, sans-serif" text-anchor="middle" textLength="306.5" lengthAdjust="spacingAndGlyphs" style="white-space:pre">C&#8226;G-to-T&#8226;A  Conversion (%)</text>
<line x1="103.10" y1="774.30" x2="119.10" y2="774.30" stroke="#000" stroke-width="3" />
<circle cx="105.00" cy="774.30" r="4.0" fill="#7F7FFF"/>
<circle cx="111.10" cy="774.30" r="4.0" fill="#7F7FFF"/>
<circle cx="117.30" cy="774.30" r="4.0" fill="#7F7FFF"/>
<line x1="133.35" y1="774.11" x2="149.35" y2="774.11" stroke="#000" stroke-width="3" />
<circle cx="135.25" cy="774.11" r="4.0" fill="#FF3399"/>
<circle cx="141.35" cy="774.11" r="4.0" fill="#FF3399"/>
<circle cx="147.55" cy="774.11" r="4.0" fill="#FF3399"/>
<line x1="163.60" y1="774.11" x2="179.60" y2="774.11" stroke="#000" stroke-width="3" />
<circle cx="165.50" cy="774.11" r="4.0" fill="#FF8C00"/>
<circle cx="171.60" cy="774.11" r="4.0" fill="#FF8C00"/>
<circle cx="177.80" cy="774.11" r="4.0" fill="#FF8C00"/>
<line x1="193.85" y1="774.11" x2="209.85" y2="774.11" stroke="#000" stroke-width="3" />
<circle cx="195.75" cy="774.11" r="4.0" fill="#8C1A4E"/>
<circle cx="201.85" cy="774.11" r="4.0" fill="#8C1A4E"/>
<circle cx="208.05" cy="774.11" r="4.0" fill="#8C1A4E"/>
<line x1="224.10" y1="762.23" x2="240.10" y2="762.23" stroke="#000" stroke-width="3" />
<circle cx="226.00" cy="762.98" r="4.0" fill="#03F703"/>
<circle cx="232.10" cy="761.85" r="4.0" fill="#03F703"/>
<circle cx="238.30" cy="762.23" r="4.0" fill="#03F703"/>
<line x1="254.35" y1="774.11" x2="270.35" y2="774.11" stroke="#000" stroke-width="3" />
<circle cx="256.25" cy="774.11" r="4.0" fill="#7DD6FA"/>
<circle cx="262.35" cy="774.11" r="4.0" fill="#7DD6FA"/>
<circle cx="268.55" cy="774.11" r="4.0" fill="#7DD6FA"/>
<line x1="284.60" y1="774.11" x2="300.60" y2="774.11" stroke="#000" stroke-width="3" />
<circle cx="286.50" cy="774.11" r="4.0" fill="#9439FF"/>
<circle cx="292.60" cy="774.11" r="4.0" fill="#9439FF"/>
<circle cx="298.80" cy="774.11" r="4.0" fill="#9439FF"/>
<line x1="314.85" y1="771.66" x2="330.85" y2="771.66" stroke="#000" stroke-width="3" />
<circle cx="316.75" cy="772.04" r="4.0" fill="#088A08"/>
<circle cx="322.85" cy="771.09" r="4.0" fill="#088A08"/>
<circle cx="329.05" cy="771.66" r="4.0" fill="#088A08"/>
<line x1="345.10" y1="774.11" x2="361.10" y2="774.11" stroke="#000" stroke-width="3" />
<circle cx="347.00" cy="774.11" r="4.0" fill="#0A4E8E"/>
<circle cx="353.10" cy="774.11" r="4.0" fill="#0A4E8E"/>
<circle cx="359.30" cy="774.11" r="4.0" fill="#0A4E8E"/>
<line x1="395.40" y1="774.30" x2="411.40" y2="774.30" stroke="#000" stroke-width="3" />
<circle cx="397.30" cy="774.30" r="4.0" fill="#7F7FFF"/>
<circle cx="403.40" cy="774.30" r="4.0" fill="#7F7FFF"/>
<circle cx="409.60" cy="774.30" r="4.0" fill="#7F7FFF"/>
<line x1="425.65" y1="752.42" x2="441.65" y2="752.42" stroke="#000" stroke-width="3" />
<circle cx="427.55" cy="752.42" r="4.0" fill="#FF3399"/>
<circle cx="433.65" cy="750.91" r="4.0" fill="#FF3399"/>
<circle cx="439.85" cy="752.42" r="4.0" fill="#FF3399"/>
<line x1="455.90" y1="772.79" x2="471.90" y2="772.79" stroke="#000" stroke-width="3" />
<circle cx="457.80" cy="772.98" r="4.0" fill="#FF8C00"/>
<circle cx="463.90" cy="772.60" r="4.0" fill="#FF8C00"/>
<circle cx="470.10" cy="772.79" r="4.0" fill="#FF8C00"/>
<line x1="486.15" y1="774.11" x2="502.15" y2="774.11" stroke="#000" stroke-width="3" />
<circle cx="488.05" cy="774.11" r="4.0" fill="#8C1A4E"/>
<circle cx="494.15" cy="774.11" r="4.0" fill="#8C1A4E"/>
<circle cx="500.35" cy="774.11" r="4.0" fill="#8C1A4E"/>
<line x1="516.40" y1="717.70" x2="532.40" y2="717.70" stroke="#000" stroke-width="3" />
<circle cx="518.30" cy="719.59" r="4.0" fill="#03F703"/>
<circle cx="524.40" cy="716.20" r="4.0" fill="#03F703"/>
<circle cx="530.60" cy="717.70" r="4.0" fill="#03F703"/>
<line x1="546.65" y1="761.66" x2="562.65" y2="761.66" stroke="#000" stroke-width="3" />
<circle cx="548.55" cy="762.23" r="4.0" fill="#7DD6FA"/>
<circle cx="554.65" cy="760.72" r="4.0" fill="#7DD6FA"/>
<circle cx="560.85" cy="761.66" r="4.0" fill="#7DD6FA"/>
<line x1="576.90" y1="769.40" x2="592.90" y2="769.40" stroke="#000" stroke-width="3" />
<circle cx="578.80" cy="769.58" r="4.0" fill="#9439FF"/>
<circle cx="584.90" cy="768.64" r="4.0" fill="#9439FF"/>
<circle cx="591.10" cy="769.40" r="4.0" fill="#9439FF"/>
<line x1="607.15" y1="747.13" x2="623.15" y2="747.13" stroke="#000" stroke-width="3" />
<circle cx="609.05" cy="747.89" r="4.0" fill="#088A08"/>
<circle cx="615.15" cy="743.36" r="4.0" fill="#088A08"/>
<circle cx="621.35" cy="747.13" r="4.0" fill="#088A08"/>
<line x1="637.40" y1="774.30" x2="653.40" y2="774.30" stroke="#000" stroke-width="3" />
<circle cx="639.30" cy="774.30" r="4.0" fill="#0A4E8E"/>
<circle cx="645.40" cy="774.30" r="4.0" fill="#0A4E8E"/>
<circle cx="651.60" cy="774.30" r="4.0" fill="#0A4E8E"/>
<circle cx="689.70" cy="774.30" r="4.0" fill="#7F7FFF"/>
<circle cx="695.80" cy="774.30" r="4.0" fill="#7F7FFF"/>
<circle cx="702.00" cy="774.30" r="4.0" fill="#7F7FFF"/>
<line x1="717.00" y1="648.00" x2="733.00" y2="648.00" stroke="#000" stroke-width="3" />
<circle cx="720.00" cy="649.40" r="4.0" fill="#FF3399"/>
<circle cx="725.90" cy="644.80" r="4.0" fill="#FF3399"/>
<circle cx="732.10" cy="648.00" r="4.0" fill="#FF3399"/>
<line x1="747.10" y1="734.40" x2="763.10" y2="734.40" stroke="#000" stroke-width="3" />
<circle cx="750.00" cy="735.30" r="4.0" fill="#FF8C00"/>
<circle cx="756.00" cy="732.80" r="4.0" fill="#FF8C00"/>
<circle cx="762.30" cy="734.40" r="4.0" fill="#FF8C00"/>
<line x1="777.40" y1="644.00" x2="793.40" y2="644.00" stroke="#000" stroke-width="3" />
<circle cx="780.30" cy="644.80" r="4.0" fill="#8C1A4E"/>
<circle cx="786.40" cy="637.90" r="4.0" fill="#8C1A4E"/>
<circle cx="792.50" cy="644.00" r="4.0" fill="#8C1A4E"/>
<line x1="807.70" y1="741.30" x2="823.70" y2="741.30" stroke="#000" stroke-width="3" />
<circle cx="810.50" cy="742.70" r="4.0" fill="#03F703"/>
<circle cx="816.60" cy="740.10" r="4.0" fill="#03F703"/>
<circle cx="823.00" cy="741.30" r="4.0" fill="#03F703"/>
<line x1="836.90" y1="444.20" x2="851.00" y2="444.20" stroke="#000" stroke-width="3" />
<circle cx="841.00" cy="437.60" r="4.0" fill="#7DD6FA"/>
<circle cx="841.00" cy="448.50" r="4.0" fill="#7DD6FA"/>
<circle cx="853.10" cy="444.20" r="4.0" fill="#7DD6FA"/>
<line x1="868.40" y1="667.20" x2="884.40" y2="667.20" stroke="#000" stroke-width="3" />
<circle cx="871.30" cy="667.60" r="4.0" fill="#9439FF"/>
<circle cx="877.40" cy="663.00" r="4.0" fill="#9439FF"/>
<circle cx="883.50" cy="667.20" r="4.0" fill="#9439FF"/>
<line x1="901.40" y1="507.80" x2="916.60" y2="507.80" stroke="#000" stroke-width="3" />
<circle cx="901.40" cy="507.80" r="4.0" fill="#088A08"/>
<circle cx="907.40" cy="498.40" r="4.0" fill="#088A08"/>
<circle cx="916.60" cy="507.80" r="4.0" fill="#088A08"/>
<line x1="928.87" y1="663.70" x2="944.87" y2="663.70" stroke="#000" stroke-width="3" />
<circle cx="931.70" cy="667.20" r="4.0" fill="#0A4E8E"/>
<circle cx="937.80" cy="663.00" r="4.0" fill="#0A4E8E"/>
<circle cx="944.10" cy="663.70" r="4.0" fill="#0A4E8E"/>
<text x="-0.20" y="859.60" font-size="28" font-weight="bold" fill="#000" text-anchor="start" font-family="'Liberation Sans', Arial, sans-serif" >e</text>
<circle cx="163.90" cy="912.50" r="21.0" fill="#D9D9D9" stroke="#767171" stroke-width="2.9"/>
<circle cx="163.50" cy="910.90" r="8.6" fill="#AEAAAA"/>
<circle cx="116.90" cy="935.00" r="21.0" fill="#D9D9D9" stroke="#767171" stroke-width="2.9"/>
<circle cx="116.50" cy="933.40" r="8.6" fill="#AEAAAA"/>
<circle cx="189.80" cy="944.60" r="21.0" fill="#D9D9D9" stroke="#767171" stroke-width="2.9"/>
<circle cx="189.40" cy="943.00" r="8.6" fill="#AEAAAA"/>
<circle cx="94.50" cy="961.80" r="21.0" fill="#D9D9D9" stroke="#767171" stroke-width="2.9"/>
<circle cx="94.10" cy="960.20" r="8.6" fill="#AEAAAA"/>
<circle cx="149.70" cy="968.20" r="21.0" fill="#D9D9D9" stroke="#767171" stroke-width="2.9"/>
<circle cx="149.30" cy="966.60" r="8.6" fill="#AEAAAA"/>
<circle cx="114.60" cy="999.60" r="21.0" fill="#D9D9D9" stroke="#767171" stroke-width="2.9"/>
<circle cx="114.20" cy="998.00" r="8.6" fill="#AEAAAA"/>
<circle cx="191.40" cy="993.20" r="21.0" fill="#D9D9D9" stroke="#767171" stroke-width="2.9"/>
<circle cx="191.00" cy="991.60" r="8.6" fill="#AEAAAA"/>
<rect x="201.30" y="874.00" width="87.10" height="19.70" rx="3" fill="#FF0000" />
<rect x="290.00" y="874.00" width="101.30" height="19.70" rx="3" fill="#FF99FF" />
<rect x="201.30" y="902.90" width="87.10" height="19.90" rx="3" fill="#00FF00" />
<rect x="290.00" y="902.90" width="101.30" height="19.90" rx="3" fill="#FF99FF" />
<text x="246.0" y="889.6" font-size="20.3" font-weight="bold" font-family="'Liberation Sans', Arial, sans-serif" text-anchor="middle" textLength="82.6" lengthAdjust="spacingAndGlyphs">mCherry</text>
<text x="341.00" y="889.60" font-size="20.4" font-weight="bold" fill="#000" text-anchor="middle" font-family="'Liberation Sans', Arial, sans-serif" >H2-1397C</text>
<text x="247.30" y="919.40" font-size="20.7" font-weight="bold" fill="#000" text-anchor="middle" font-family="'Liberation Sans', Arial, sans-serif" >EGFP</text>
<text x="341.00" y="919.40" font-size="20.3" font-weight="bold" fill="#000" text-anchor="middle" font-family="'Liberation Sans', Arial, sans-serif" >L1-1397N</text>
<line x1="218.90" y1="958.50" x2="368.00" y2="958.50" stroke="#000" stroke-width="4.6" />
<path d="M365.7,952.6 L377.8,958.8 L365.7,964.8 Z" fill="#000"/>
<path d="M277.4,929.6 Q284,949 313,957.5" fill="none" stroke="#000" stroke-width="3.8"/>
<circle cx="482.20" cy="910.40" r="21.0" fill="#D9D9D9" stroke="#767171" stroke-width="2.9"/>
<circle cx="481.80" cy="908.50" r="8.6" fill="#AEAAAA"/>
<circle cx="435.20" cy="932.70" r="21.0" fill="#00FF00" stroke="#767171" stroke-width="2.9"/>
<circle cx="434.80" cy="930.80" r="8.6" fill="#AEAAAA"/>
<circle cx="511.60" cy="943.80" r="21.0" fill="#FFE699" stroke="#767171" stroke-width="2.9"/>
<circle cx="510.10" cy="942.00" r="8.6" fill="#AEAAAA"/>
<circle cx="471.10" cy="955.00" r="21.0" fill="#00FF00" stroke="#767171" stroke-width="2.9"/>
<circle cx="475.10" cy="956.90" r="8.6" fill="#AEAAAA"/>
<circle cx="410.70" cy="976.40" r="21.0" fill="#FF0000" stroke="#767171" stroke-width="2.9"/>
<circle cx="410.10" cy="974.10" r="8.6" fill="#AEAAAA"/>
<circle cx="451.20" cy="993.10" r="21.0" fill="#D9D9D9" stroke="#767171" stroke-width="2.9"/>
<circle cx="450.20" cy="991.80" r="8.6" fill="#AEAAAA"/>
<circle cx="507.30" cy="990.70" r="21.0" fill="#FF0000" stroke="#767171" stroke-width="2.9"/>
<circle cx="502.70" cy="994.00" r="8.6" fill="#AEAAAA"/>
<text x="579.40" y="905.40" font-size="25.2" font-weight="bold" fill="#000" text-anchor="middle" font-family="'Liberation Sans', Arial, sans-serif" >FACS</text>
<line x1="538.90" y1="958.70" x2="618.00" y2="958.70" stroke="#000" stroke-width="4.4" />
<path d="M616,952.8 L628.1,958.7 L616,964.7 Z" fill="#000"/>
<path d="M563,928 Q568,948 600,957.3" fill="none" stroke="#000" stroke-width="3.6"/>
<ellipse cx="681.0" cy="958.5" rx="48.5" ry="50.2" fill="#FFE699" stroke="#767171" stroke-width="4"/>
<circle cx="669.90" cy="967.50" r="14.8" fill="#AEAAAA"/>
<g transform="translate(695.3,941.2) rotate(29)"><rect x="-32" y="-16" width="64" height="32" rx="16" fill="none" stroke="#3F3F3F" stroke-width="1.5"/><path d="M-16.0,-11.5 L-13.2,-11.5 L-12.5,3.5 A1.0,1.0 0 0 0 -10.5,3.5 L-9.8,-11.5 L-4.2,-11.5 L-3.5,3.5 A1.0,1.0 0 0 0 -1.5,3.5 L-0.8,-11.5 L4.8,-11.5 L5.5,3.5 A1.0,1.0 0 0 0 7.5,3.5 L8.2,-11.5 L16.0,-11.5 A11.5,11.5 0 0 1 16.0,11.5 L12.7,11.5 L12.0,-3.5 A1.0,1.0 0 0 0 10.0,-3.5 L9.3,11.5 L3.7,11.5 L3.0,-3.5 A1.0,1.0 0 0 0 1.0,-3.5 L0.3,11.5 L-5.3,11.5 L-6.0,-3.5 A1.0,1.0 0 0 0 -8.0,-3.5 L-8.7,11.5 L-16.0,11.5 A11.5,11.5 0 0 1 -16.0,-11.5 Z" fill="none" stroke="#3F3F3F" stroke-width="1.4" stroke-linejoin="round"/></g>
<circle cx="679.00" cy="928.40" r="2.2" fill="none" stroke="#1F4E79" stroke-width="1.4"/>
<circle cx="679.00" cy="938.20" r="2.2" fill="none" stroke="#1F4E79" stroke-width="1.4"/>
<circle cx="709.10" cy="942.80" r="2.2" fill="none" stroke="#1F4E79" stroke-width="1.4"/>
<circle cx="711.70" cy="950.00" r="2.2" fill="none" stroke="#1F4E79" stroke-width="1.4"/>
<circle cx="707.70" cy="955.70" r="2.2" fill="none" stroke="#1F4E79" stroke-width="1.4"/>
<line x1="682.10" y1="926.10" x2="682.40" y2="931.30" stroke="#FF0000" stroke-width="1.4" />
<line x1="681.60" y1="934.70" x2="681.90" y2="939.90" stroke="#FF0000" stroke-width="1.4" />
<line x1="714.60" y1="946.80" x2="749.50" y2="912.90" stroke="#000" stroke-width="2.8" />
<line x1="714.60" y1="953.10" x2="749.50" y2="986.50" stroke="#000" stroke-width="2.8" />
<circle cx="773.00" cy="924.90" r="18.3" fill="none" stroke="#1F4E79" stroke-width="2.6"/>
<circle cx="816.90" cy="922.60" r="18.3" fill="none" stroke="#1F4E79" stroke-width="2.6"/>
<circle cx="844.70" cy="955.20" r="18.3" fill="none" stroke="#1F4E79" stroke-width="2.6"/>
<circle cx="768.60" cy="969.60" r="18.3" fill="none" stroke="#1F4E79" stroke-width="2.6"/>
<circle cx="808.20" cy="986.40" r="18.3" fill="none" stroke="#1F4E79" stroke-width="2.6"/>
<rect x="780.3" y="907.5" width="8" height="7" fill="#FF0000" transform="rotate(-40 784.3 911)"/>
<line x1="789.20" y1="904.10" x2="799.80" y2="893.00" stroke="#231815" stroke-width="2.2" />
<line x1="795.40" y1="1003.60" x2="783.90" y2="1015.10" stroke="#231815" stroke-width="2.2" />
<text x="819.50" y="887.80" font-size="24.4" font-weight="bold" fill="#000" text-anchor="middle" font-family="'Liberation Sans', Arial, sans-serif" >Mutant mtDNA</text>
<text x="819.80" y="1034.10" font-size="24.4" font-weight="bold" fill="#000" text-anchor="middle" font-family="'Liberation Sans', Arial, sans-serif" >Corrected mtDNA</text>
<text x="976.70" y="602.00" font-size="26.8" font-weight="bold" fill="#000" text-anchor="start" font-family="'Liberation Sans', Arial, sans-serif" >f</text>
<circle cx="1056.10" cy="643.40" r="4.6" fill="#7F7FFF"/>
<text x="1075.30" y="652.40" font-size="23.8" font-weight="bold" fill="#000" text-anchor="start" font-family="'Liberation Sans', Arial, sans-serif" >Untreated iPSCs</text>
<circle cx="1288.80" cy="643.40" r="4.6" fill="#FF3399"/>
<text x="1306.80" y="652.40" font-size="23.8" font-weight="bold" fill="#000" text-anchor="start" font-family="'Liberation Sans', Arial, sans-serif" >0-5%</text>
<circle cx="1056.10" cy="684.90" r="4.6" fill="#00FFFF"/>
<text x="1074.50" y="693.40" font-size="23.8" font-weight="bold" fill="#000" text-anchor="start" font-family="'Liberation Sans', Arial, sans-serif" >5-30%</text>
<circle cx="1183.40" cy="684.90" r="4.6" fill="#0033FF"/>
<text x="1200.80" y="693.40" font-size="23.8" font-weight="bold" fill="#000" text-anchor="start" font-family="'Liberation Sans', Arial, sans-serif" >30-60%</text>
<circle cx="1316.30" cy="684.90" r="4.6" fill="#9439FF"/>
<text x="1334.00" y="693.40" font-size="23.8" font-weight="bold" fill="#000" text-anchor="start" font-family="'Liberation Sans', Arial, sans-serif" >Over 60%</text>
<line x1="1045.00" y1="737.70" x2="1045.00" y2="848.30" stroke="#000" stroke-width="2.5" />
<line x1="1038.00" y1="848.30" x2="1052.50" y2="848.30" stroke="#000" stroke-width="2.5" />
<line x1="1045.00" y1="869.40" x2="1045.00" y2="980.30" stroke="#000" stroke-width="2.5" />
<line x1="1038.00" y1="869.40" x2="1052.50" y2="869.40" stroke="#000" stroke-width="2.5" />
<line x1="1030.00" y1="738.90" x2="1045.00" y2="738.90" stroke="#000" stroke-width="2.5" />
<text x="1027.60" y="745.30" font-size="24.4" font-weight="bold" fill="#000" text-anchor="end" font-family="'Liberation Sans', Arial, sans-serif" >80</text>
<line x1="1030.00" y1="770.19" x2="1045.00" y2="770.19" stroke="#000" stroke-width="2.5" />
<text x="1027.60" y="776.59" font-size="24.4" font-weight="bold" fill="#000" text-anchor="end" font-family="'Liberation Sans', Arial, sans-serif" >60</text>
<line x1="1030.00" y1="801.48" x2="1045.00" y2="801.48" stroke="#000" stroke-width="2.5" />
<text x="1027.60" y="807.88" font-size="24.4" font-weight="bold" fill="#000" text-anchor="end" font-family="'Liberation Sans', Arial, sans-serif" >40</text>
<line x1="1030.00" y1="832.78" x2="1045.00" y2="832.78" stroke="#000" stroke-width="2.5" />
<text x="1027.60" y="839.18" font-size="24.4" font-weight="bold" fill="#000" text-anchor="end" font-family="'Liberation Sans', Arial, sans-serif" >20</text>
<text x="1027.00" y="876.00" font-size="24.4" font-weight="bold" fill="#000" text-anchor="end" font-family="'Liberation Sans', Arial, sans-serif" >5</text>
<line x1="1033.00" y1="891.50" x2="1045.00" y2="891.50" stroke="#000" stroke-width="2.5" />
<text x="1027.00" y="897.90" font-size="24.4" font-weight="bold" fill="#000" text-anchor="end" font-family="'Liberation Sans', Arial, sans-serif" >4</text>
<line x1="1033.00" y1="913.40" x2="1045.00" y2="913.40" stroke="#000" stroke-width="2.5" />
<text x="1027.00" y="919.80" font-size="24.4" font-weight="bold" fill="#000" text-anchor="end" font-family="'Liberation Sans', Arial, sans-serif" >3</text>
<line x1="1033.00" y1="935.30" x2="1045.00" y2="935.30" stroke="#000" stroke-width="2.5" />
<text x="1027.00" y="941.70" font-size="24.4" font-weight="bold" fill="#000" text-anchor="end" font-family="'Liberation Sans', Arial, sans-serif" >2</text>
<line x1="1033.00" y1="957.20" x2="1045.00" y2="957.20" stroke="#000" stroke-width="2.5" />
<text x="1027.00" y="963.60" font-size="24.4" font-weight="bold" fill="#000" text-anchor="end" font-family="'Liberation Sans', Arial, sans-serif" >1</text>
<line x1="1033.00" y1="979.10" x2="1045.00" y2="979.10" stroke="#000" stroke-width="2.5" />
<text x="1027.00" y="985.50" font-size="24.4" font-weight="bold" fill="#000" text-anchor="end" font-family="'Liberation Sans', Arial, sans-serif" >0</text>
<line x1="1030.00" y1="979.10" x2="1562.80" y2="979.10" stroke="#000" stroke-width="2.5" />
<line x1="1127.50" y1="979.10" x2="1127.50" y2="991.60" stroke="#000" stroke-width="2.5" />
<text x="1126.50" y="1011.40" font-size="24.5" font-weight="bold" fill="#000" text-anchor="middle" font-family="'Liberation Sans', Arial, sans-serif" >G4296A</text>
<line x1="1303.50" y1="979.10" x2="1303.50" y2="991.60" stroke="#000" stroke-width="2.5" />
<text x="1302.50" y="1011.40" font-size="24.5" font-weight="bold" fill="#000" text-anchor="middle" font-family="'Liberation Sans', Arial, sans-serif" >G4298A</text>
<line x1="1479.80" y1="979.10" x2="1479.80" y2="991.60" stroke="#000" stroke-width="2.5" />
<text x="1478.80" y="1011.40" font-size="24.5" font-weight="bold" fill="#000" text-anchor="middle" font-family="'Liberation Sans', Arial, sans-serif" >G4300A</text>
<text transform="translate(990.70,862.00) rotate(-90)" font-size="24.6" font-weight="bold" font-family="'Liberation Sans', Arial, sans-serif" text-anchor="middle" textLength="306.5" lengthAdjust="spacingAndGlyphs" style="white-space:pre">C&#8226;G-to-T&#8226;A  Conversion (%)</text>
<circle cx="1060.00" cy="978.80" r="4.9" fill="#7F7FFF"/>
<circle cx="1063.50" cy="978.80" r="4.9" fill="#7F7FFF"/>
<circle cx="1067.50" cy="978.80" r="4.9" fill="#7F7FFF"/>
<circle cx="1071.00" cy="978.80" r="4.9" fill="#7F7FFF"/>
<circle cx="1091.00" cy="978.80" r="4.9" fill="#FF3399"/>
<circle cx="1094.50" cy="978.80" r="4.9" fill="#FF3399"/>
<circle cx="1098.50" cy="978.80" r="4.9" fill="#FF3399"/>
<circle cx="1102.00" cy="978.80" r="4.9" fill="#FF3399"/>
<circle cx="1122.00" cy="978.80" r="4.9" fill="#00FFFF"/>
<circle cx="1125.50" cy="978.80" r="4.9" fill="#00FFFF"/>
<circle cx="1129.50" cy="978.80" r="4.9" fill="#00FFFF"/>
<circle cx="1133.00" cy="978.80" r="4.9" fill="#00FFFF"/>
<circle cx="1153.00" cy="978.80" r="4.9" fill="#0033FF"/>
<circle cx="1156.50" cy="978.80" r="4.9" fill="#0033FF"/>
<circle cx="1160.50" cy="978.80" r="4.9" fill="#0033FF"/>
<circle cx="1164.00" cy="978.80" r="4.9" fill="#0033FF"/>
<circle cx="1184.00" cy="978.80" r="4.9" fill="#9439FF"/>
<circle cx="1187.50" cy="978.80" r="4.9" fill="#9439FF"/>
<circle cx="1191.50" cy="978.80" r="4.9" fill="#9439FF"/>
<circle cx="1195.00" cy="978.80" r="4.9" fill="#9439FF"/>
<circle cx="1156.00" cy="975.50" r="4.9" fill="#0033FF"/>
<circle cx="1185.20" cy="976.60" r="4.9" fill="#9439FF"/>
<circle cx="1191.50" cy="977.60" r="4.9" fill="#9439FF"/>
<circle cx="1236.00" cy="978.80" r="4.9" fill="#7F7FFF"/>
<circle cx="1239.50" cy="978.80" r="4.9" fill="#7F7FFF"/>
<circle cx="1243.50" cy="978.80" r="4.9" fill="#7F7FFF"/>
<circle cx="1247.00" cy="978.80" r="4.9" fill="#7F7FFF"/>
<circle cx="1267.00" cy="978.80" r="4.9" fill="#FF3399"/>
<circle cx="1270.50" cy="978.80" r="4.9" fill="#FF3399"/>
<circle cx="1274.50" cy="978.80" r="4.9" fill="#FF3399"/>
<circle cx="1278.00" cy="978.80" r="4.9" fill="#FF3399"/>
<line x1="1293.00" y1="971.44" x2="1314.00" y2="971.44" stroke="#000" stroke-width="2.4" />
<circle cx="1303.50" cy="965.96" r="4.9" fill="#00FFFF"/>
<circle cx="1300.50" cy="969.25" r="4.9" fill="#00FFFF"/>
<circle cx="1306.50" cy="969.25" r="4.9" fill="#00FFFF"/>
<circle cx="1298.50" cy="973.62" r="4.9" fill="#00FFFF"/>
<circle cx="1308.50" cy="973.62" r="4.9" fill="#00FFFF"/>
<circle cx="1303.50" cy="972.53" r="4.9" fill="#00FFFF"/>
<circle cx="1297.50" cy="978.00" r="4.9" fill="#00FFFF"/>
<circle cx="1309.50" cy="978.00" r="4.9" fill="#00FFFF"/>
<circle cx="1303.50" cy="978.00" r="4.9" fill="#00FFFF"/>
<circle cx="1301.50" cy="975.82" r="4.9" fill="#00FFFF"/>
<circle cx="1305.50" cy="975.82" r="4.9" fill="#00FFFF"/>
<line x1="1326.50" y1="954.13" x2="1345.00" y2="954.13" stroke="#000" stroke-width="2.4" />
<circle cx="1332.50" cy="948.00" r="4.9" fill="#0033FF"/>
<circle cx="1338.00" cy="948.88" r="4.9" fill="#0033FF"/>
<circle cx="1328.50" cy="952.82" r="4.9" fill="#0033FF"/>
<circle cx="1334.50" cy="953.92" r="4.9" fill="#0033FF"/>
<circle cx="1340.50" cy="950.63" r="4.9" fill="#0033FF"/>
<circle cx="1332.50" cy="955.45" r="4.9" fill="#0033FF"/>
<circle cx="1332.50" cy="965.52" r="4.9" fill="#0033FF"/>
<line x1="1357.50" y1="934.64" x2="1373.50" y2="934.64" stroke="#000" stroke-width="2.4" />
<circle cx="1365.50" cy="913.84" r="4.9" fill="#9439FF"/>
<circle cx="1364.00" cy="924.79" r="4.9" fill="#9439FF"/>
<circle cx="1370.00" cy="925.45" r="4.9" fill="#9439FF"/>
<circle cx="1359.50" cy="934.21" r="4.9" fill="#9439FF"/>
<circle cx="1365.50" cy="935.30" r="4.9" fill="#9439FF"/>
<circle cx="1371.50" cy="934.21" r="4.9" fill="#9439FF"/>
<circle cx="1365.50" cy="953.70" r="4.9" fill="#9439FF"/>
<line x1="1411.80" y1="976.47" x2="1423.80" y2="976.47" stroke="#000" stroke-width="2.4" />
<circle cx="1417.80" cy="965.96" r="4.9" fill="#7F7FFF"/>
<circle cx="1412.30" cy="977.79" r="4.9" fill="#7F7FFF"/>
<circle cx="1423.30" cy="976.47" r="4.9" fill="#7F7FFF"/>
<line x1="1437.80" y1="948.00" x2="1449.80" y2="948.00" stroke="#000" stroke-width="2.4" />
<circle cx="1448.80" cy="932.01" r="4.9" fill="#FF3399"/>
<circle cx="1454.80" cy="948.00" r="4.9" fill="#FF3399"/>
<circle cx="1443.80" cy="954.13" r="4.9" fill="#FF3399"/>
<line x1="1469.80" y1="830.60" x2="1489.80" y2="830.60" stroke="#000" stroke-width="2.4" />
<circle cx="1474.40" cy="820.50" r="4.9" fill="#00FFFF"/>
<circle cx="1481.90" cy="819.10" r="4.9" fill="#00FFFF"/>
<circle cx="1486.20" cy="825.60" r="4.9" fill="#00FFFF"/>
<circle cx="1474.70" cy="830.60" r="4.9" fill="#00FFFF"/>
<circle cx="1481.10" cy="830.60" r="4.9" fill="#00FFFF"/>
<circle cx="1486.20" cy="834.90" r="4.9" fill="#00FFFF"/>
<circle cx="1474.70" cy="841.40" r="4.9" fill="#00FFFF"/>
<circle cx="1481.90" cy="841.40" r="4.9" fill="#00FFFF"/>
<circle cx="1478.00" cy="825.00" r="4.9" fill="#00FFFF"/>
<circle cx="1478.00" cy="836.00" r="4.9" fill="#00FFFF"/>
<line x1="1501.20" y1="790.10" x2="1521.20" y2="790.10" stroke="#000" stroke-width="2.4" />
<circle cx="1516.30" cy="780.30" r="4.9" fill="#0033FF"/>
<circle cx="1510.60" cy="781.00" r="4.9" fill="#0033FF"/>
<circle cx="1505.30" cy="787.20" r="4.9" fill="#0033FF"/>
<circle cx="1516.60" cy="792.50" r="4.9" fill="#0033FF"/>
<circle cx="1511.00" cy="803.00" r="4.9" fill="#0033FF"/>
<circle cx="1511.00" cy="813.60" r="4.9" fill="#0033FF"/>
<line x1="1532.00" y1="753.80" x2="1552.00" y2="753.80" stroke="#000" stroke-width="2.4" />
<circle cx="1536.40" cy="747.30" r="4.9" fill="#9439FF"/>
<circle cx="1543.60" cy="749.40" r="4.9" fill="#9439FF"/>
<circle cx="1548.00" cy="751.60" r="4.9" fill="#9439FF"/>
<circle cx="1540.00" cy="753.80" r="4.9" fill="#9439FF"/>
<circle cx="1542.20" cy="763.10" r="4.9" fill="#9439FF"/>
<circle cx="1537.90" cy="768.10" r="4.9" fill="#9439FF"/>
<circle cx="1545.80" cy="768.10" r="4.9" fill="#9439FF"/>
<text x="1554.20" y="597.80" font-size="27.2" font-weight="bold" fill="#000" text-anchor="start" font-family="'Liberation Sans', Arial, sans-serif" >g</text>
<text x="1727.30" y="688.00" font-size="24.5" font-weight="bold" fill="#000" text-anchor="middle" font-family="'Liberation Sans', Arial, sans-serif" >G4300A</text>
<line x1="1652.00" y1="735.20" x2="1652.00" y2="979.50" stroke="#000" stroke-width="2.5" />
<line x1="1639.20" y1="978.10" x2="1812.90" y2="978.10" stroke="#000" stroke-width="2.5" />
<line x1="1639.20" y1="978.10" x2="1652.00" y2="978.10" stroke="#000" stroke-width="2.5" />
<text x="1629.70" y="985.10" font-size="24.4" font-weight="bold" fill="#000" text-anchor="end" font-family="'Liberation Sans', Arial, sans-serif" >0</text>
<line x1="1639.20" y1="929.58" x2="1652.00" y2="929.58" stroke="#000" stroke-width="2.5" />
<text x="1632.30" y="936.58" font-size="24.4" font-weight="bold" fill="#000" text-anchor="end" font-family="'Liberation Sans', Arial, sans-serif" >20</text>
<line x1="1639.20" y1="881.06" x2="1652.00" y2="881.06" stroke="#000" stroke-width="2.5" />
<text x="1632.30" y="888.06" font-size="24.4" font-weight="bold" fill="#000" text-anchor="end" font-family="'Liberation Sans', Arial, sans-serif" >40</text>
<line x1="1639.20" y1="832.54" x2="1652.00" y2="832.54" stroke="#000" stroke-width="2.5" />
<text x="1632.30" y="839.54" font-size="24.4" font-weight="bold" fill="#000" text-anchor="end" font-family="'Liberation Sans', Arial, sans-serif" >60</text>
<line x1="1639.20" y1="784.02" x2="1652.00" y2="784.02" stroke="#000" stroke-width="2.5" />
<text x="1632.30" y="791.02" font-size="24.4" font-weight="bold" fill="#000" text-anchor="end" font-family="'Liberation Sans', Arial, sans-serif" >80</text>
<line x1="1639.20" y1="735.50" x2="1652.00" y2="735.50" stroke="#000" stroke-width="2.5" />
<text x="1634.90" y="742.50" font-size="24.4" font-weight="bold" fill="#000" text-anchor="end" font-family="'Liberation Sans', Arial, sans-serif" >100</text>
<line x1="1696.60" y1="978.10" x2="1696.60" y2="990.30" stroke="#000" stroke-width="2.5" />
<text x="1696.60" y="1011.30" font-size="24.4" font-weight="bold" fill="#000" text-anchor="middle" font-family="'Liberation Sans', Arial, sans-serif" >P0</text>
<line x1="1766.40" y1="978.10" x2="1766.40" y2="990.30" stroke="#000" stroke-width="2.5" />
<text x="1766.40" y="1011.30" font-size="24.4" font-weight="bold" fill="#000" text-anchor="middle" font-family="'Liberation Sans', Arial, sans-serif" >P20</text>
<text transform="translate(1589.70,846.90) rotate(-90)" font-size="24.6" font-weight="bold" font-family="'Liberation Sans', Arial, sans-serif" text-anchor="middle" textLength="306.5" lengthAdjust="spacingAndGlyphs" style="white-space:pre">C&#8226;G-to-T&#8226;A  Conversion (%)</text>
<line x1="1697.00" y1="801.49" x2="1766.60" y2="783.53" stroke="#000" stroke-width="3.0" />
<line x1="1697.00" y1="801.73" x2="1766.60" y2="790.81" stroke="#000" stroke-width="3.0" />
<line x1="1697.00" y1="802.22" x2="1766.60" y2="832.05" stroke="#000" stroke-width="3.0" />
<circle cx="1697.00" cy="798.82" r="5.0" fill="#7F7FFF"/>
<circle cx="1697.00" cy="804.40" r="5.0" fill="#7F7FFF"/>
<circle cx="1697.00" cy="801.73" r="5.0" fill="#7F7FFF"/>
<circle cx="1766.80" cy="783.53" r="5.0" fill="#FF3399"/>
<circle cx="1766.80" cy="790.81" r="5.0" fill="#FF3399"/>
<circle cx="1766.80" cy="832.05" r="5.0" fill="#FF3399"/>
<text x="1814.00" y="597.80" font-size="27.2" font-weight="bold" fill="#000" text-anchor="start" font-family="'Liberation Sans', Arial, sans-serif" >h</text>
<text x="1955.60" y="688.10" font-size="24.5" font-weight="bold" fill="#000" text-anchor="middle" font-family="'Liberation Sans', Arial, sans-serif" >G4298A</text>
<line x1="1888.80" y1="735.40" x2="1888.80" y2="979.30" stroke="#000" stroke-width="2.5" />
<line x1="1877.20" y1="977.90" x2="2050.00" y2="977.90" stroke="#000" stroke-width="2.5" />
<line x1="1877.20" y1="977.90" x2="1888.80" y2="977.90" stroke="#000" stroke-width="2.5" />
<text x="1876.30" y="984.50" font-size="24.4" font-weight="bold" fill="#000" text-anchor="end" font-family="'Liberation Sans', Arial, sans-serif" >0</text>
<line x1="1877.20" y1="897.13" x2="1888.80" y2="897.13" stroke="#000" stroke-width="2.5" />
<text x="1876.30" y="903.73" font-size="24.4" font-weight="bold" fill="#000" text-anchor="end" font-family="'Liberation Sans', Arial, sans-serif" >1</text>
<line x1="1877.20" y1="816.36" x2="1888.80" y2="816.36" stroke="#000" stroke-width="2.5" />
<text x="1876.30" y="822.96" font-size="24.4" font-weight="bold" fill="#000" text-anchor="end" font-family="'Liberation Sans', Arial, sans-serif" >2</text>
<line x1="1877.20" y1="735.59" x2="1888.80" y2="735.59" stroke="#000" stroke-width="2.5" />
<text x="1876.30" y="742.19" font-size="24.4" font-weight="bold" fill="#000" text-anchor="end" font-family="'Liberation Sans', Arial, sans-serif" >3</text>
<line x1="1933.50" y1="977.90" x2="1933.50" y2="990.30" stroke="#000" stroke-width="2.5" />
<text x="1933.50" y="1011.50" font-size="24.4" font-weight="bold" fill="#000" text-anchor="middle" font-family="'Liberation Sans', Arial, sans-serif" >P0</text>
<line x1="2003.30" y1="977.90" x2="2003.30" y2="990.30" stroke="#000" stroke-width="2.5" />
<text x="2003.30" y="1011.50" font-size="24.4" font-weight="bold" fill="#000" text-anchor="middle" font-family="'Liberation Sans', Arial, sans-serif" >P20</text>
<text transform="translate(1849.50,847.70) rotate(-90)" font-size="24.6" font-weight="bold" font-family="'Liberation Sans', Arial, sans-serif" text-anchor="middle" textLength="306.5" lengthAdjust="spacingAndGlyphs" style="white-space:pre">C&#8226;G-to-T&#8226;A  Conversion (%)</text>
<line x1="1933.50" y1="775.17" x2="2003.30" y2="781.63" stroke="#000" stroke-width="3.0" />
<line x1="1933.50" y1="778.40" x2="2003.30" y2="840.59" stroke="#000" stroke-width="3.0" />
<line x1="1933.50" y1="819.59" x2="2003.30" y2="808.28" stroke="#000" stroke-width="3.0" />
<circle cx="1933.50" cy="775.57" r="5.0" fill="#7F7FFF"/>
<circle cx="1933.50" cy="778.80" r="5.0" fill="#7F7FFF"/>
<circle cx="1933.50" cy="819.99" r="5.0" fill="#7F7FFF"/>
<circle cx="2003.30" cy="782.23" r="5.0" fill="#FF3399"/>
<circle cx="2003.30" cy="841.19" r="5.0" fill="#FF3399"/>
<circle cx="2003.30" cy="808.88" r="5.0" fill="#FF3399"/>
</svg></body></html>
